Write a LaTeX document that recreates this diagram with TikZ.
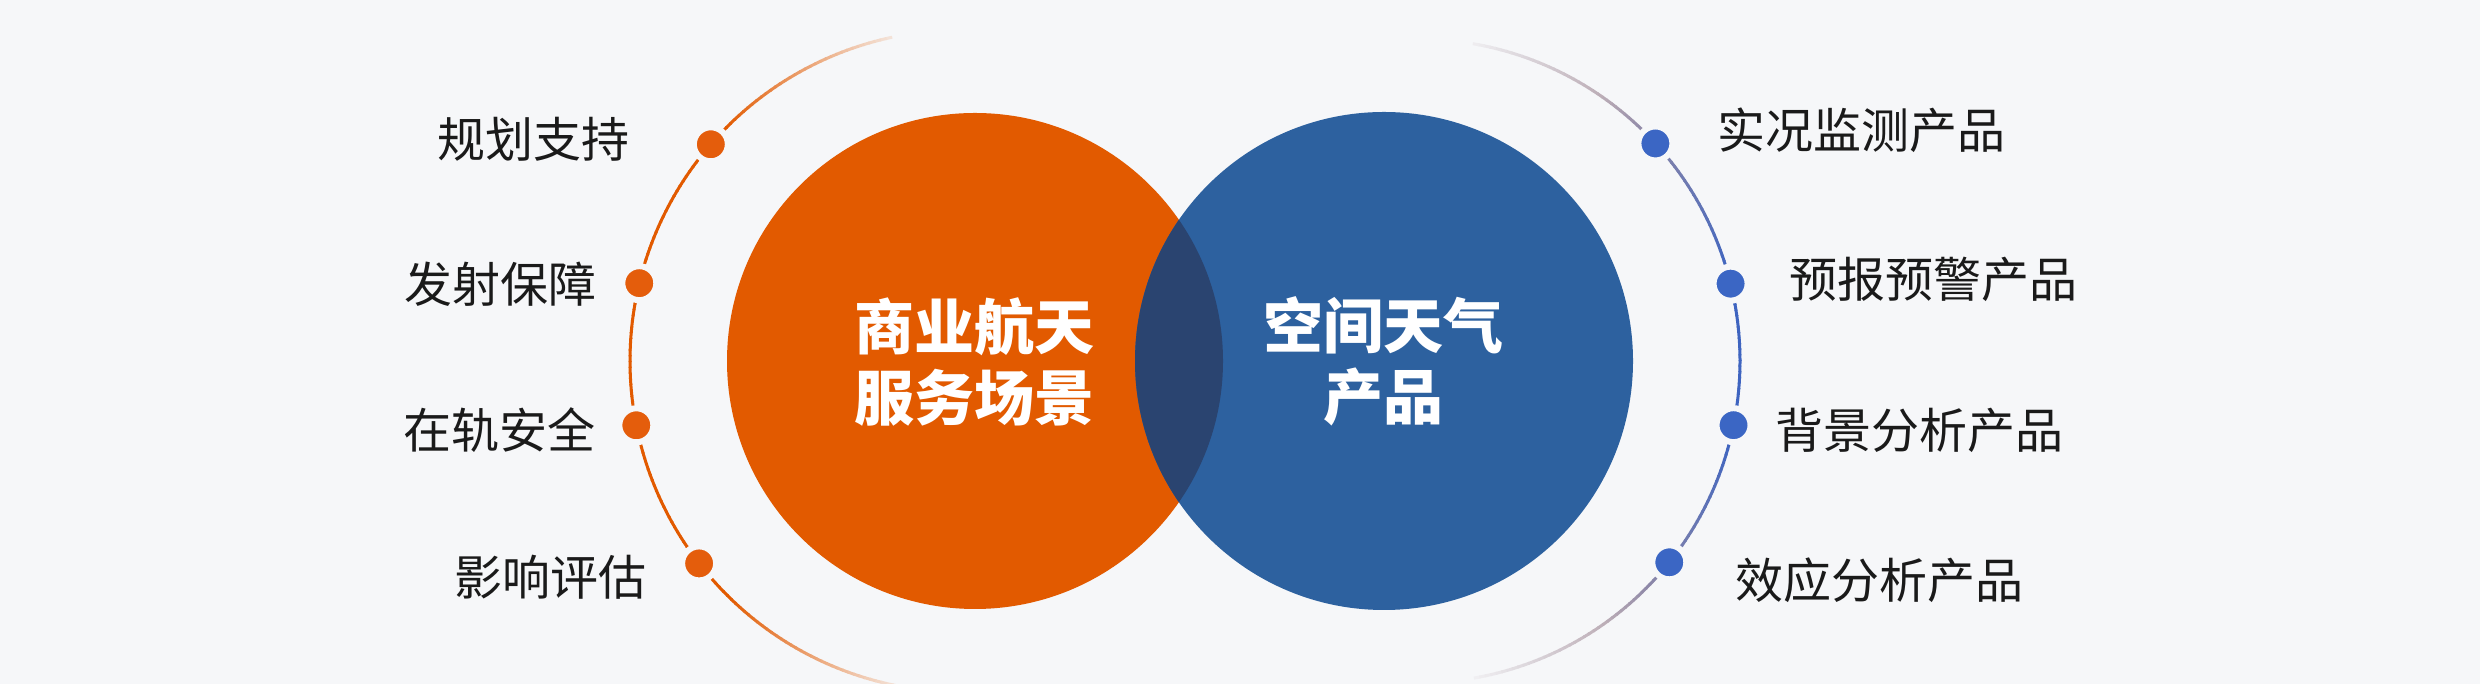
\documentclass[tikz,border=0pt]{standalone}
\usepackage{fontspec}
\newfontfamily\cjk{Noto Sans CJK SC}
\definecolor{bgc}{RGB}{246,247,249}
\definecolor{orng}{RGB}{226,90,0}
\definecolor{blu}{RGB}{45,97,159}
\definecolor{dkb}{RGB}{42,68,112}
\definecolor{odot}{RGB}{228,93,12}
\definecolor{bdot}{RGB}{59,102,196}
\definecolor{arcb}{RGB}{62,100,192}
\definecolor{mauve}{RGB}{168,148,160}
\definecolor{txt}{RGB}{26,26,26}
\begin{document}
\begin{tikzpicture}[x=0.5pt,y=0.5pt,
  lbl/.style={font=\cjk\fontsize{24}{28}\selectfont, text=txt, inner sep=0pt},
  ctr/.style={font=\cjk\bfseries\fontsize{30}{35.5}\selectfont, text=white, inner sep=0pt, align=center},
  odotst/.style={circle, inner sep=0pt, minimum size=17pt, fill=odot, draw=bgc, line width=3pt},
  bdotst/.style={circle, inner sep=0pt, minimum size=17pt, fill=bdot, draw=bgc, line width=3pt},
  arcline/.style={line width=1.5pt, line cap=butt}]
\fill[bgc] (0,0) rectangle (2480,684);
\useasboundingbox (0,0) rectangle (2480,684);

\coordinate (lc) at (961,323);
\coordinate (rc) at (1418,323);
\coordinate (oc) at (975,323);
\coordinate (bc) at (1384,323);

% big circles
\fill[orng] (oc) circle[radius=248];
\fill[blu] (bc) circle[radius=249];
\begin{scope}
  \clip (oc) circle[radius=248];
  \fill[dkb] (bc) circle[radius=249];
\end{scope}

% left arc
\foreach \a [evaluate=\a as \f using {max(8,min(100,100-(abs(\a-180)-45)*92/35))}] in {102,103,...,258}
  \draw[arcline, orng!\f!bgc] ([shift={(\a:331)}]lc) arc[start angle=\a, delta angle=1.2, radius=331];

% right arc
\foreach \a [evaluate=\a as \m using {max(0,min(100,100-(abs(\a)-15)*100/40))}, evaluate=\a as \f using {max(8,min(100,100-(abs(\a)-45)*92/35))}] in {-80,-79,...,79}
  \draw[arcline, arcb!\m!mauve!\f!bgc] ([shift={(\a:322)}]rc) arc[start angle=\a, delta angle=1.2, radius=322];

% dots
\node[odotst] (ld1) at ([shift={(139.1:331)}]lc) {};
\node[odotst] (ld2) at ([shift={(166.4:331)}]lc) {};
\node[odotst] (ld3) at ([shift={(191.2:331)}]lc) {};
\node[odotst] (ld4) at ([shift={(217.7:331)}]lc) {};
\node[bdotst] (rd1) at ([shift={(42.5:322)}]rc) {};
\node[bdotst] (rd2) at ([shift={(13.9:322)}]rc) {};
\node[bdotst] (rd3) at ([shift={(-11.5:322)}]rc) {};
\node[bdotst] (rd4) at ([shift={(-38.7:322)}]rc) {};

% labels
\node[lbl, anchor=east] (l1) at (630,545) {规划支持};
\node[lbl, anchor=east] (l2) at (597,399.5) {发射保障};
\node[lbl, anchor=east] (l3) at (596,254) {在轨安全};
\node[lbl, anchor=east] (l4) at (647,107) {影响评估};
\node[lbl, anchor=west] (r1) at (1717.5,554) {实况监测产品};
\node[lbl, anchor=west] (r2) at (1789,405) {预报预警产品};
\node[lbl, anchor=west] (r3) at (1775,254) {背景分析产品};
\node[lbl, anchor=west] (r4) at (1735,104) {效应分析产品};

% centre texts
\node[ctr] (c1) at (974,322.5) {商业航天\\服务场景};
\node[ctr] (c2) at (1383.5,322.5) {空间天气\\产品};
\end{tikzpicture}
\end{document}
